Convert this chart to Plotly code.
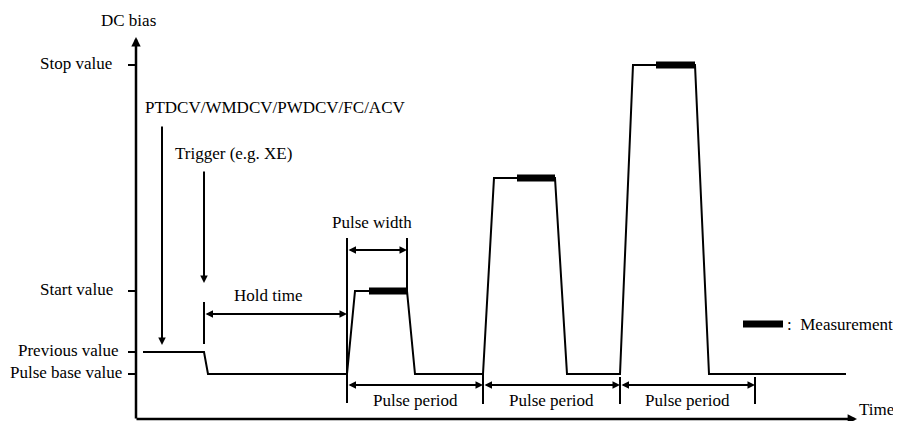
import plotly.graph_objects as go

# ── Diagram data (time / bias in arbitrary units) ────────────────────────────

wave_time = [7, 68, 72, 211, 219, 271, 279, 347, 358, 419, 431, 484, 497, 559, 573, 710]
wave_bias = [22, 22, 0, 0, 83, 83, 0, 0, 196, 196, 0, 0, 309, 309, 0, 0]

meas_start = [233, 381, 520]
meas_end = [271, 419, 559]
meas_level = [83, 196, 309]

level_names = ["Stop value", "Start value", "Previous value", "Pulse base value"]
level_values = [309, 83, 22, 0]
level_label_x = [-98, -98, -120, -128]

period_edges = [211, 347, 484, 619]
period_marker_top = [0, 0, -3, -3]

trigger_time = 68
cmd_time = 26
pulse_width_edges = [211, 271]

# page body has an 8px margin, so the figure is 8px smaller than the window
FIG_W, FIG_H = 893, 413
X_RANGE = [-128, 765]
Y_RANGE = [-47, 366]
AXIS_Y = -45
AXIS_TOP = 337
AXIS_RIGHT = 721

FONT = dict(family="Liberation Serif, Times New Roman, serif", size=17, color="black")
LINE = dict(color="black", width=2)


def arrow(fig, x, y, ax, ay, both=False, width=2):
    fig.add_annotation(
        x=x, y=y, ax=ax, ay=ay, xref="x", yref="y", axref="x", ayref="y",
        text="", showarrow=True, arrowhead=2, arrowsize=0.75, arrowwidth=width,
        arrowcolor="black", arrowside="end+start" if both else "end",
        startarrowhead=2, startarrowsize=0.75, standoff=0, startstandoff=0,
    )


def label(fig, x, y, text, anchor="left", vanchor="middle"):
    fig.add_annotation(
        x=x, y=y, xref="x", yref="y", text=text, showarrow=False,
        xanchor=anchor, yanchor=vanchor, font=FONT,
    )


fig = go.Figure()

# waveform
fig.add_trace(go.Scatter(
    x=wave_time, y=wave_bias, mode="lines", line=LINE,
    hoverinfo="skip", showlegend=False,
))

# measurement bars
for x0, x1, lv in zip(meas_start, meas_end, meas_level):
    fig.add_trace(go.Scatter(
        x=[x0, x1], y=[lv, lv], mode="lines",
        line=dict(color="black", width=7),
        hoverinfo="skip", showlegend=False,
    ))

# legend sample
fig.add_trace(go.Scatter(
    x=[607, 647], y=[50, 50], mode="lines",
    line=dict(color="black", width=7),
    hoverinfo="skip", showlegend=False,
))
label(fig, 649, 50, ": \u00a0Measurement")

# axes
arrow(fig, 0, AXIS_TOP, 0, AXIS_Y - 1, width=2.5)
arrow(fig, AXIS_RIGHT, AXIS_Y, -1, AXIS_Y, width=2.5)
label(fig, -8, 354, "DC bias", anchor="center")
label(fig, AXIS_RIGHT, Y_RANGE[0], "Time", vanchor="bottom")

# y ticks + labels
for name, v, lx in zip(level_names, level_values, level_label_x):
    fig.add_shape(type="line", x0=-8, x1=0, y0=v, y1=v, line=LINE)
    label(fig, lx, v + 2, name)

# command / trigger arrows
arrow(fig, cmd_time, 29, cmd_time, 249)
label(fig, 7, 267, "PTDCV/WMDCV/PWDCV/FC/ACV")
arrow(fig, trigger_time, 91, trigger_time, 204)
label(fig, 37, 221, "Trigger (e.g. XE)")

# hold time
fig.add_shape(type="line", x0=trigger_time, x1=trigger_time, y0=30, y1=72, line=LINE)
arrow(fig, pulse_width_edges[0], 60, trigger_time, 60, both=True)
label(fig, 132, 79, "Hold time", anchor="center")

# pulse width
fig.add_shape(type="line", x0=pulse_width_edges[0], x1=pulse_width_edges[0],
              y0=-29, y1=136, line=LINE)
fig.add_shape(type="line", x0=pulse_width_edges[1], x1=pulse_width_edges[1],
              y0=83, y1=136, line=LINE)
arrow(fig, pulse_width_edges[1], 124, pulse_width_edges[0], 124, both=True)
label(fig, 236, 152, "Pulse width", anchor="center")

# pulse periods
for i in range(3):
    a, b = period_edges[i], period_edges[i + 1]
    fig.add_shape(type="line", x0=b, x1=b, y0=period_marker_top[i + 1], y1=-30, line=LINE)
    arrow(fig, b, -11, a, -11, both=True)
    label(fig, (a + b) / 2, -26, "Pulse period", anchor="center")

fig.update_layout(
    width=FIG_W, height=FIG_H,
    margin=dict(l=0, r=0, t=0, b=0),
    paper_bgcolor="white", plot_bgcolor="white",
    font=FONT,
    xaxis=dict(range=X_RANGE, visible=False, fixedrange=True),
    yaxis=dict(range=Y_RANGE, visible=False, fixedrange=True),
    showlegend=False,
)

fig.write_html("out.html")
